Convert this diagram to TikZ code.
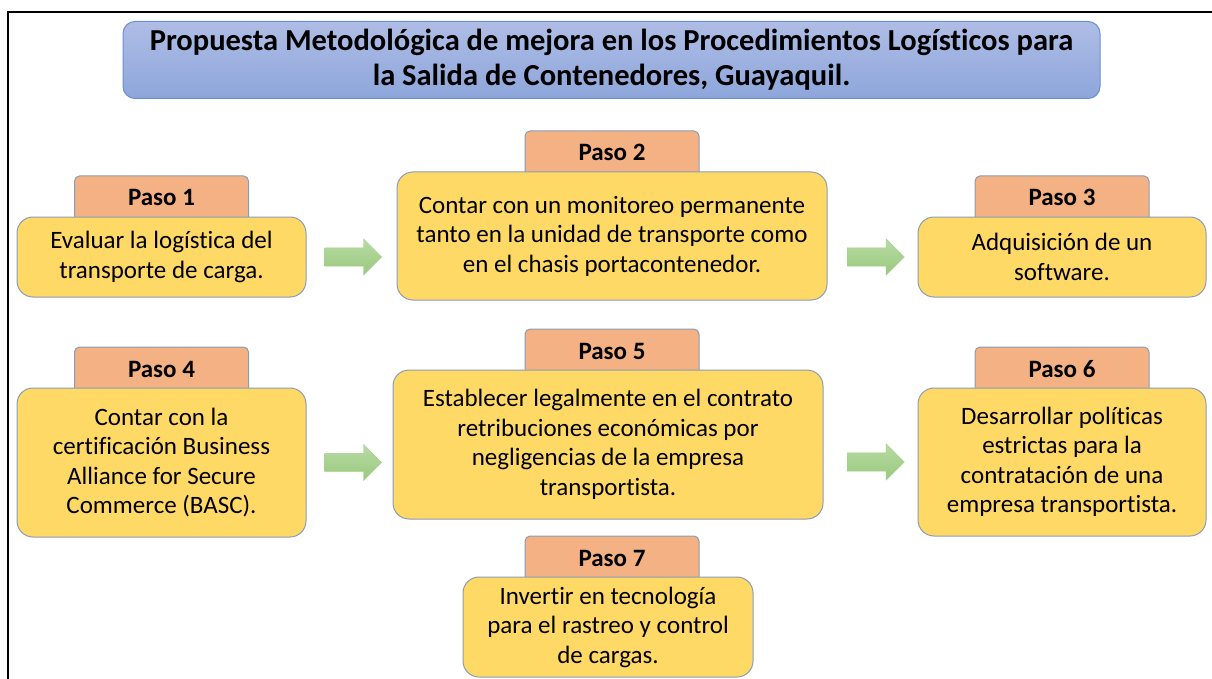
\documentclass[tikz,border=0pt]{standalone}
\usepackage{fontspec}
\setmainfont{Carlito}[Ligatures=NoCommon]
\usetikzlibrary{positioning,shapes.arrows,backgrounds}

\definecolor{titletop}{HTML}{AFBDE5}
\definecolor{titlebot}{HTML}{8DA6DB}
\definecolor{titleline}{HTML}{6A8FD6}
\definecolor{tabfill}{HTML}{F4B183}
\definecolor{boxfill}{HTML}{FFD966}
\definecolor{boxline}{HTML}{8A9DB5}
\definecolor{arrowtop}{HTML}{B9DBA5}
\definecolor{arrowbot}{HTML}{98C97C}
\definecolor{arrowline}{HTML}{A3CF88}

\begin{document}
\begin{tikzpicture}[x=1pt, y=-1pt]
	\useasboundingbox (0,0) rectangle (1212,679);
	\tikzstyle{titlebox}=[draw=titleline, top color=titletop, bottom color=titlebot, rounded corners=12pt, line width=1pt, align=center, inner sep=0pt, font=\fontsize{30.5}{35}\selectfont\bfseries]
	\tikzstyle{paso}=[draw=boxline, fill=boxfill, rounded corners=16pt, line width=1pt, align=center, inner sep=0pt, font=\fontsize{25}{29.5}\selectfont]
	\tikzstyle{tab}=[draw=boxline, fill=tabfill, rounded corners=5pt, line width=1pt, minimum width=174pt, inner sep=0pt, text height=30pt, text depth=18pt, font=\fontsize{25}{29}\selectfont\bfseries]
	\tikzstyle{blockarrow}=[single arrow, draw=arrowline, top color=arrowtop, bottom color=arrowbot, minimum height=57pt, minimum width=36pt, single arrow head extend=9pt, inner sep=9pt]

	% marco
	\draw[line width=2pt] (1212,12) -- (8,12) -- (8,679);

	\node[titlebox, minimum width=977pt, minimum height=77pt] (titulo) at (611.5,60) {Propuesta Metodológica de mejora en los Procedimientos Logísticos para\\la Salida de Contenedores, Guayaquil.};

	% pasos
	\node[paso, minimum width=289pt, minimum height=80pt] (p1) at (161.5,257) {Evaluar la logística del\\transporte de carga.};
	\node[paso, minimum width=430pt, minimum height=128pt] (p2) at (612,236) {Contar con un monitoreo permanente\\tanto en la unidad de transporte como\\en el chasis portacontenedor.};
	\node[paso, minimum width=288pt, minimum height=80pt] (p3) at (1062,257) {Adquisición de un\\software.};
	\node[paso, minimum width=289pt, minimum height=149pt] (p4) at (161.5,462.5) {Contar con la\\certificación Business\\Alliance for Secure\\Commerce (BASC).};
	\node[paso, minimum width=430pt, minimum height=149pt] (p5) at (608,444.5) {Establecer legalmente en el contrato\\retribuciones económicas por\\negligencias de la empresa\\transportista.};
	\node[paso, minimum width=288pt, minimum height=148pt] (p6) at (1062,462) {Desarrollar políticas\\estrictas para la\\contratación de una\\empresa transportista.};
	\node[paso, minimum width=290pt, minimum height=100pt] (p7) at (608,627) {Invertir en tecnología\\para el rastreo y control\\de cargas.};

	% pestañas
	\begin{scope}[on background layer]
		\node[tab, above=-8pt of p1.north] (t1) {Paso 1};
		\node[tab, above=-8pt of p2.north] (t2) {Paso 2};
		\node[tab, above=-8pt of p3.north] (t3) {Paso 3};
		\node[tab, above=-8pt of p4.north] (t4) {Paso 4};
		\node[tab, above=-8pt of p5.north, xshift=4pt] (t5) {Paso 5};
		\node[tab, above=-8pt of p6.north] (t6) {Paso 6};
		\node[tab, above=-8pt of p7.north, xshift=4pt] (t7) {Paso 7};
	\end{scope}

	% flechas
	\node[blockarrow, right=18pt of p1] (f12) {};
	\node[blockarrow, left=13pt of p3] (f23) {};
	\node[blockarrow, right=18pt of p4] (f45) {};
	\node[blockarrow, left=13pt of p6] (f56) {};
\end{tikzpicture}
\end{document}
